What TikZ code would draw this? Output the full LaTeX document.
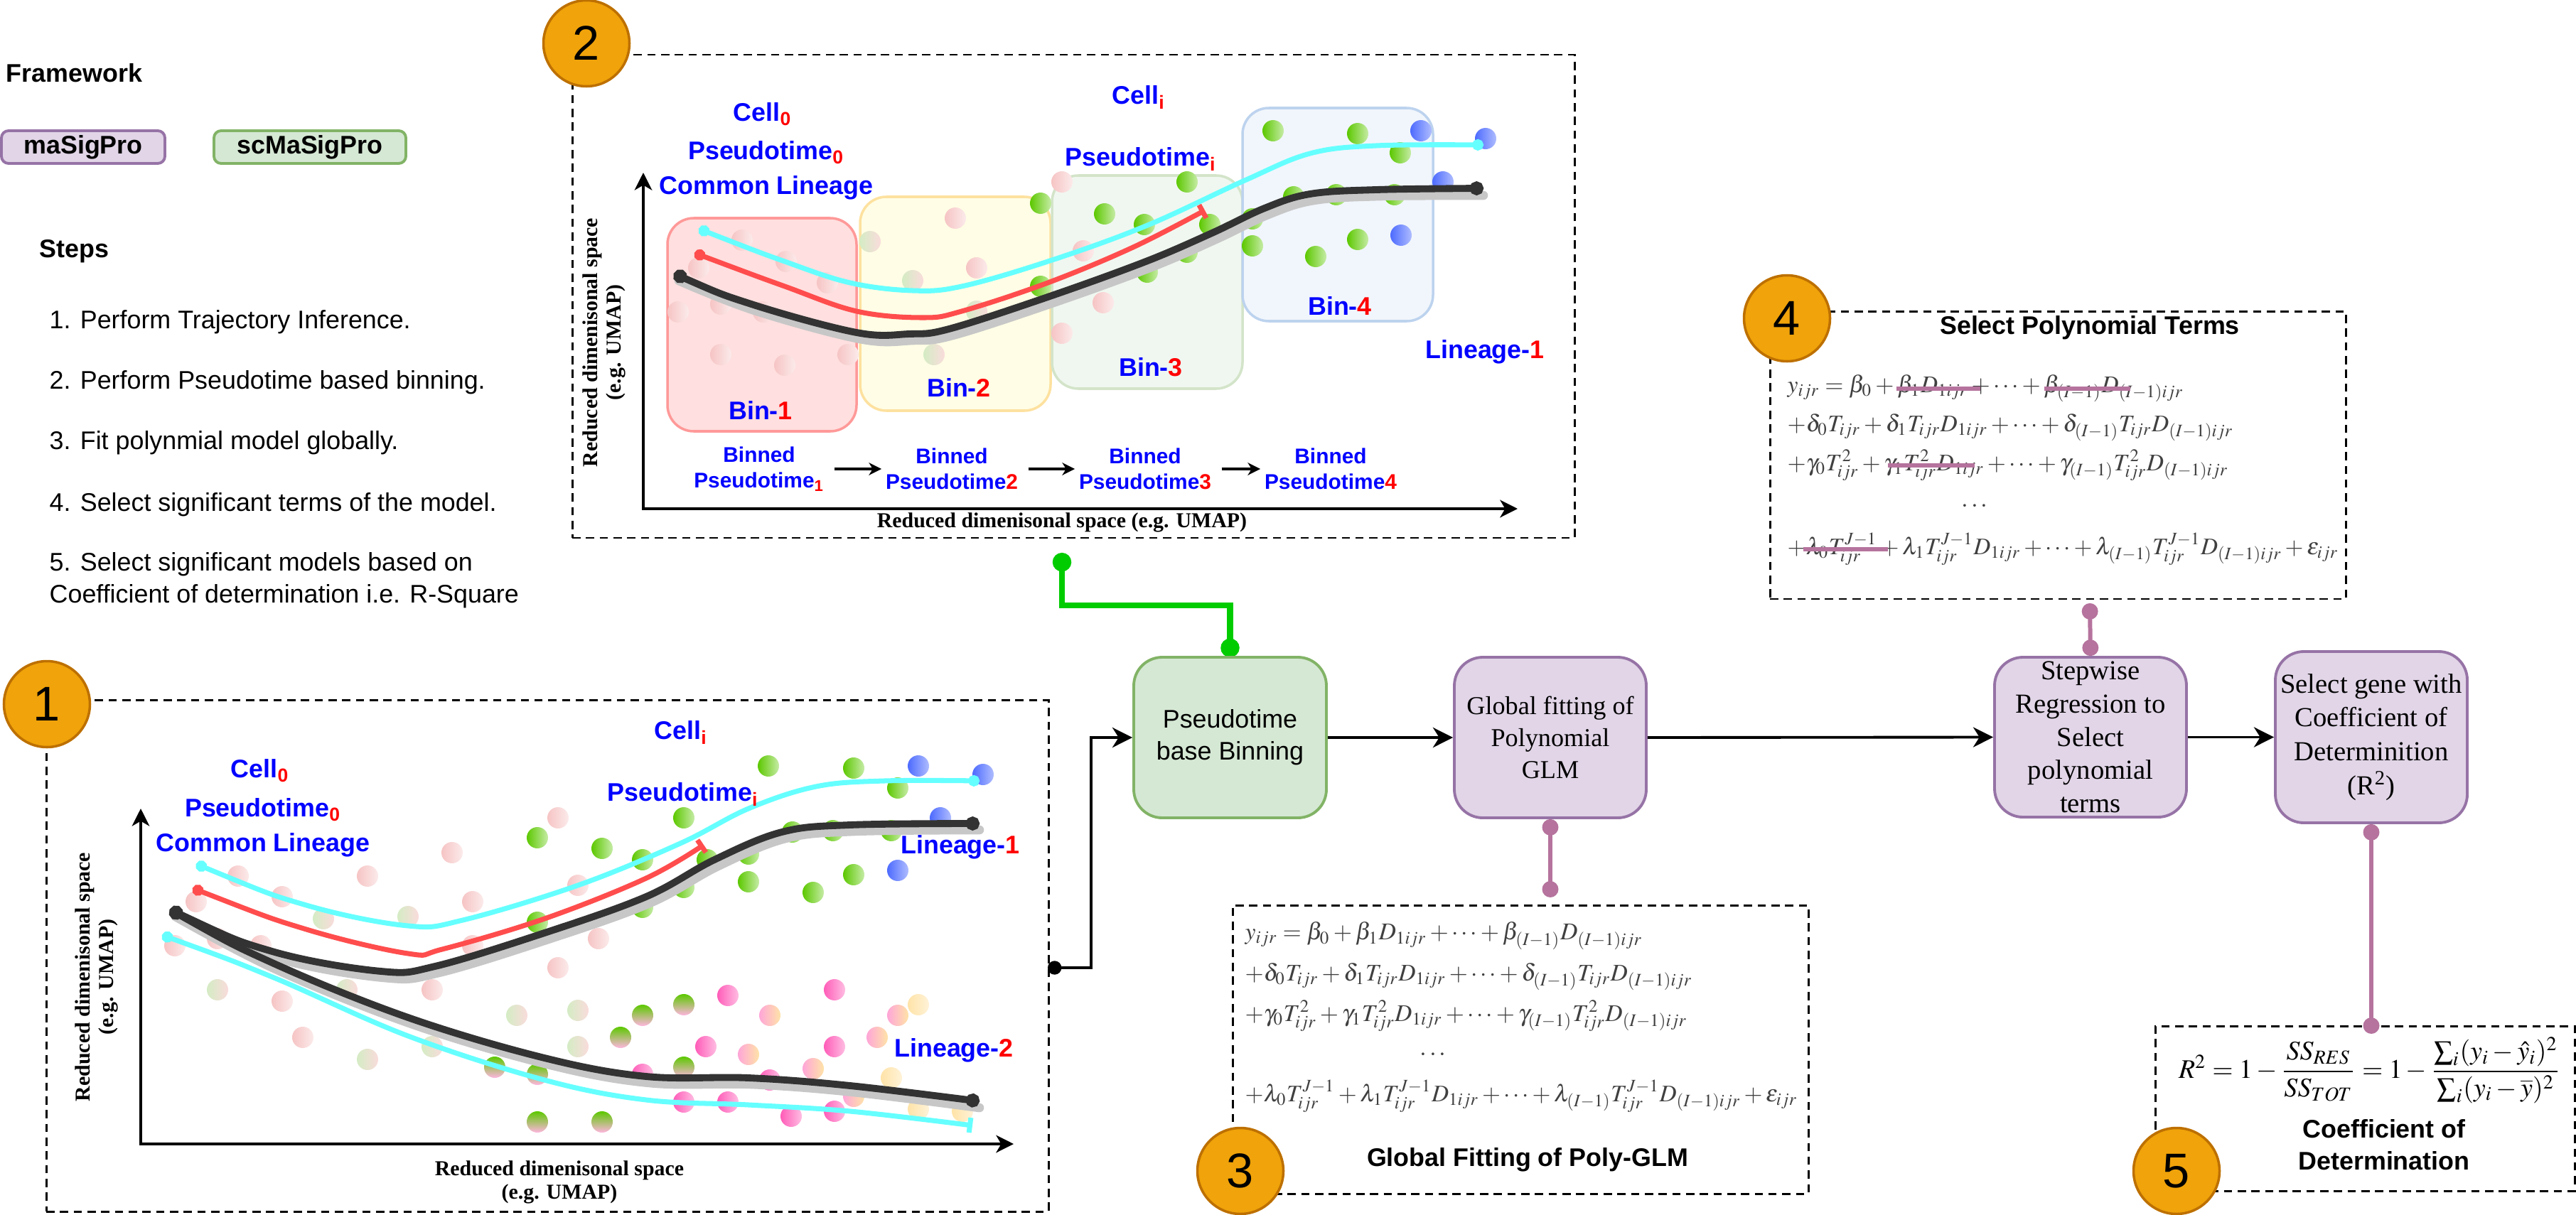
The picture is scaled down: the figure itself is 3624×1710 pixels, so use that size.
\documentclass[tikz,border=0pt]{standalone}
\usepackage{mathptmx}
\usepackage[no-math]{fontspec}
\setmainfont{Liberation Serif}
\setsansfont{Liberation Sans}
\usetikzlibrary{arrows.meta,calc}

\definecolor{orangefill}{HTML}{F0A30A}
\definecolor{orangeline}{HTML}{BD7000}
\definecolor{purplefill}{HTML}{E1D5E7}
\definecolor{purpleline}{HTML}{9673A6}
\definecolor{greenfill}{HTML}{D5E8D4}
\definecolor{greenline}{HTML}{82B366}
\definecolor{linkpurple}{HTML}{B5739D}
\definecolor{linkgreen}{HTML}{00CC00}
\definecolor{lblue}{HTML}{0000FF}
\definecolor{curvecyan}{HTML}{66FFFF}
\definecolor{curvered}{HTML}{FF4D4D}
\definecolor{cellgreen}{HTML}{5CC800}
\definecolor{cellblue}{HTML}{4D6BFF}
\definecolor{cellpink}{HTML}{FF5CB8}
\definecolor{cellyellow}{HTML}{FFE3A8}
\definecolor{palepink}{HTML}{F6C4C4}
\definecolor{palegreen}{HTML}{D4ECC4}
\definecolor{binblue}{HTML}{BDD3EE}

\newcommand{\txtnorm}{\fontsize{10.2}{12.8}\selectfont}
\newcommand{\txtbox}{\fontsize{11}{13.3}\selectfont}

\tikzstyle{stepnum}=[circle, draw=orangeline, fill=orangefill, line width=1pt,
	minimum size=12.1mm, inner sep=0pt, font=\sffamily\fontsize{19.5}{20}\selectfont]
\tikzstyle{panel}=[draw=black, line width=0.85pt, dash pattern=on 3.3pt off 2.2pt, inner sep=0pt]
\tikzstyle{legendbox}=[rounded corners=1mm, line width=1.1pt, minimum height=4.6mm,
	inner sep=0pt, font=\sffamily\bfseries\txtnorm]
\tikzstyle{title}=[inner sep=0pt, font=\sffamily\bfseries\txtnorm]
\tikzstyle{steptext}=[inner sep=0pt, align=left, font=\sffamily\txtnorm]
\tikzstyle{gbox}=[draw=greenline, fill=greenfill, line width=1.1pt, rounded corners=4mm,
	minimum width=27.1mm, minimum height=22.6mm, align=center, inner sep=0pt,
	font=\sffamily\fontsize{10.2}{12.8}\selectfont]
\tikzstyle{pbox}=[draw=purpleline, fill=purplefill, line width=1.1pt, rounded corners=4mm,
	minimum width=27mm, minimum height=22.6mm, align=center, inner sep=0pt,
	font=\rmfamily\txtbox]
\tikzstyle{flow}=[line width=1.1pt, -{Stealth[length=8pt,width=8pt,inset=2.5pt]}]
\tikzstyle{smallflow}=[line width=1pt, shorten <=4pt, shorten >=1.5pt, -{Stealth[length=5pt,width=5pt,inset=1.5pt]}]
\tikzstyle{plink}=[draw=linkpurple, line width=1.7pt, {Circle[length=6.5pt]}-{Circle[length=6.5pt]}]
\tikzstyle{glink}=[draw=linkgreen, line width=2.3pt, {Circle[length=7.5pt]}-{Circle[length=7.5pt]}]
\tikzstyle{strike}=[draw=linkpurple, line width=1.7pt]
\tikzstyle{bluelbl}=[text=lblue, inner sep=0pt, font=\sffamily\bfseries\txtnorm]
\tikzstyle{binned}=[text=lblue, inner sep=0pt, align=center,
	font=\sffamily\bfseries\fontsize{8.5}{10.4}\selectfont]
\tikzstyle{axislbl}=[inner sep=0pt, align=center, font=\rmfamily\bfseries\fontsize{8.5}{9.4}\selectfont]
\tikzstyle{axis}=[line width=1.1pt, {Stealth[length=7pt,width=7pt,inset=2pt]}-{Stealth[length=7pt,width=7pt,inset=2pt]}]
\tikzstyle{trunk}=[line width=2.8pt, draw=black!80, {Circle[length=5.5pt]}-{Circle[length=5.5pt]}]
\tikzstyle{shadow}=[line width=3.6pt, draw=black!22, line cap=round]
\tikzstyle{redpath}=[line width=2pt, draw=curvered]
\tikzstyle{cyanpath}=[line width=2pt, draw=curvecyan]
\tikzstyle{eqn}=[inner sep=0pt, anchor=west, text=black!75, font=\fontsize{10}{12}\selectfont]
\tikzstyle{gcell}=[left color=cellgreen, right color=cellgreen!35!white]
\tikzstyle{bcell}=[left color=cellblue, right color=cellblue!45!white]
\tikzstyle{pkcell}=[left color=cellpink, right color=cellpink!40!white]
\tikzstyle{pecell}=[left color=cellpink!55!white, right color=cellyellow]
\tikzstyle{ycell}=[left color=cellyellow, right color=cellyellow!45!white]
\tikzstyle{gpcell}=[top color=cellgreen, bottom color=cellpink!45!white]
\tikzstyle{ppcell}=[left color=palepink, right color=palepink!35!white]
\tikzstyle{pgcell}=[left color=palegreen, right color=palepink!60!white]

\begin{document}
\begin{tikzpicture}[x=0.1mm, y=-0.1mm]
	\useasboundingbox (0,0) rectangle (3624,1710);

	% legend and steps
	\node[anchor=west, title] (fw) at (8,103) {Framework};
	\node[legendbox, draw=purpleline, fill=purplefill, minimum width=23mm] (lgma) at (117,207) {maSigPro};
	\node[legendbox, draw=greenline, fill=greenfill, minimum width=27mm] (lgsc) at (436,207) {scMaSigPro};
	\node[anchor=west, title] (steps) at (55,354) {Steps};
	\node[anchor=west, steptext] (st1) at (69,453) {1. Perform Trajectory Inference.};
	\node[anchor=west, steptext] (st2) at (69,538) {2. Perform Pseudotime based binning.};
	\node[anchor=west, steptext] (st3) at (69,623) {3. Fit polynmial model globally.};
	\node[anchor=west, steptext] (st4) at (69,710) {4. Select significant terms of the model.};
	\node[anchor=west, steptext] (st5) at (69,817) {5. Select significant models based on\\Coefficient of determination i.e. R-Square};

	% panel 1: trajectory inference
	\node[panel, minimum width=141mm, minimum height=72mm] (panel1) at (770,1345) {};
	\foreach \x/\y in {335/1233, 397/1262, 276/1269, 246/1331, 306/1321, 367/1331, 517/1233,
		636/1200, 665/1269, 785/1151, 813/1246, 842/1321, 785/1362, 608/1393, 397/1409,
		426/1460, 665/1331}
		\shade[ppcell] (\x,\y) circle (15);
	\foreach \x/\y in {455/1293, 574/1290, 488/1393, 306/1393, 517/1491, 608/1473, 727/1429,
		813/1422, 813/1473}
		\shade[pgcell] (\x,\y) circle (15);
	\foreach \x/\y in {756/1179, 847/1194, 904/1210, 962/1151, 1081/1078, 1201/1081, 1263/1109,
		995/1210, 962/1249, 904/1277, 756/1298, 1053/1202, 1053/1241, 1115/1171, 1172/1169,
		1254/1169, 1144/1256, 1201/1231}
		\shade[gcell] (\x,\y) circle (15);
	\foreach \x/\y in {1292/1078, 1383/1090, 1323/1151, 1263/1225}
		\shade[bcell] (\x,\y) circle (15);
	\foreach \x/\y in {962/1414, 904/1429, 873/1460, 962/1502, 756/1512, 696/1502, 756/1579, 847/1579}
		\shade[gpcell] (\x,\y) circle (15);
	\foreach \x/\y in {1024/1401, 1174/1393, 993/1473, 1174/1473, 904/1512, 1083/1520, 962/1551,
		1024/1551, 1113/1571, 1174/1564}
		\shade[pkcell] (\x,\y) circle (15);
	\foreach \x/\y in {1083/1429, 1053/1484, 1144/1504, 1234/1460, 1263/1429, 1201/1543}
		\shade[pecell] (\x,\y) circle (15);
	\foreach \x/\y in {1292/1414, 1254/1517, 1292/1561, 1354/1564}
		\shade[ycell] (\x,\y) circle (15);

	\draw[axis] (198,1138) -- (198,1610) -- (1426,1610);
	\draw[shadow] plot[smooth, tension=0.6] coordinates {(247,1290) (388,1348) (541,1376) (617,1369)
		(771,1322) (914,1271) (1010,1219) (1105,1180) (1201,1170) (1378,1168)};
	\draw[shadow] plot[smooth, tension=0.6] coordinates {(247,1290) (388,1364) (579,1441) (771,1498)
		(914,1524) (1058,1526) (1201,1537) (1378,1559)};
	\draw[trunk] plot[smooth, tension=0.6] coordinates {(239,1280) (383,1339) (536,1367) (612,1360)
		(766,1313) (909,1262) (1005,1210) (1100,1171) (1196,1161) (1378,1159)};
	\draw[trunk] plot[smooth, tension=0.6] coordinates {(239,1280) (383,1355) (574,1432) (766,1489)
		(909,1515) (1053,1517) (1196,1528) (1378,1550)};
	\draw[redpath, {Circle[length=4.5pt]}-{Bar[width=6pt]}] plot[smooth, tension=0.6] coordinates {
		(271,1250) (431,1308) (574,1342) (622,1336) (766,1293) (909,1236) (990,1189)};
	\draw[cyanpath, {Circle[length=4.5pt]}-{Circle[length=4.5pt]}] plot[smooth, tension=0.6] coordinates {
		(276,1216) (431,1274) (574,1303) (651,1295) (813,1246) (957,1187) (1053,1138) (1148,1107)
		(1244,1099) (1378,1099)};
	\draw[cyanpath, {Circle[length=4.5pt]}-{Bar[width=6pt]}] plot[smooth, tension=0.6] coordinates {
		(228,1316) (383,1375) (574,1458) (766,1520) (909,1548) (1053,1555) (1196,1564) (1368,1584)};

	\node[bluelbl] (c0a) at (366,1085) {Cell\textsubscript{\textcolor{red}{0}}};
	\node[bluelbl] (t0a) at (370,1140) {Pseudotime\textsubscript{\textcolor{red}{0}}};
	\node[bluelbl] (cla) at (370,1189) {Common Lineage};
	\node[bluelbl] (cia) at (958,1031) {Cell\textsubscript{\textcolor{red}{i}}};
	\node[bluelbl] (tia) at (961,1118) {Pseudotime\textsubscript{\textcolor{red}{i}}};
	\node[bluelbl] (l1a) at (1351,1192) {Lineage-\textcolor{red}{1}};
	\node[bluelbl] (l2a) at (1342,1478) {Lineage-\textcolor{red}{2}};
	\node[axislbl, rotate=90] (yla) at (136,1375) {Reduced dimenisonal space\\(e.g. UMAP)};
	\node[axislbl] (xla) at (787,1664) {Reduced dimenisonal space\\(e.g. UMAP)};

	% panel 2: pseudotime binning
	\node[panel, minimum width=141mm, minimum height=68mm] (panel2) at (1510,417) {};
	\draw[rounded corners=3.7mm, line width=1pt, draw=red!40, fill=red!25, fill opacity=0.5] (939,307) rectangle (1205,607);
	\draw[rounded corners=3.7mm, line width=1pt, draw=yellow!40!orange!35, fill=yellow!20, fill opacity=0.5] (1210,277) rectangle (1478,578);
	\draw[rounded corners=3.7mm, line width=1pt, draw=greenline!35, fill=greenfill, fill opacity=0.35] (1480,247) rectangle (1748,547);
	\draw[rounded corners=3.7mm, line width=1pt, draw=binblue, fill=binblue!60, fill opacity=0.35] (1748,152) rectangle (2016,452);
	\foreach \x/\y in {1044/338, 1106/368, 1164/398, 983/377, 954/439, 1014/428, 1074/439, 1014/499,
		1104/514, 1193/499, 1344/307, 1374/377, 1494/256, 1524/353, 1552/426, 1494/469}
		\shade[ppcell] (\x,\y) circle (15);
	\foreach \x/\y in {1224/340, 1284/395, 1314/499, 1374/438}
		\shade[pgcell] (\x,\y) circle (15);
	\foreach \x/\y in {1464/286, 1554/301, 1610/316, 1670/256, 1702/316, 1670/355, 1614/383, 1464/403,
		1791/184, 1910/188, 1970/215, 1762/308, 1762/346, 1820/277, 1880/274, 1962/274, 1851/361, 1910/337}
		\shade[gcell] (\x,\y) circle (15);
	\foreach \x/\y in {1999/184, 2090/195, 2030/256, 1971/331}
		\shade[bcell] (\x,\y) circle (15);

	\draw[axis] (905,243) -- (905,716) -- (2135,716);
	\draw[shadow] plot[smooth, tension=0.6] coordinates {(955,395) (1062,437) (1210,477) (1284,479)
		(1340,472) (1479,427) (1617,377) (1710,337) (1784,302) (1848,282) (1941,276) (2087,275)};
	\draw[trunk] plot[smooth, tension=0.6] coordinates {(948,385) (1057,428) (1205,468) (1279,470)
		(1335,463) (1474,418) (1612,368) (1705,328) (1779,293) (1843,273) (1936,267) (2087,265)};
	\draw[redpath, {Circle[length=4.5pt]}-{Bar[width=6pt]}] plot[smooth, tension=0.6] coordinates {
		(977,356) (1104,403) (1205,438) (1298,447) (1353,438) (1474,398) (1594,348) (1695,296)};
	\draw[cyanpath, {Circle[length=4.5pt]}-{Circle[length=4.5pt]}] plot[smooth, tension=0.6] coordinates {
		(983,322) (1104,368) (1196,398) (1284,409) (1353,403) (1474,368) (1612,318) (1751,254)
		(1843,216) (1936,205) (2087,204)};

	\node[bluelbl] (c0b) at (1073,161) {Cell\textsubscript{\textcolor{red}{0}}};
	\node[bluelbl] (t0b) at (1078,215) {Pseudotime\textsubscript{\textcolor{red}{0}}};
	\node[bluelbl] (clb) at (1078,264) {Common Lineage};
	\node[bluelbl] (cib) at (1602,137) {Cell\textsubscript{\textcolor{red}{i}}};
	\node[bluelbl] (tib) at (1605,224) {Pseudotime\textsubscript{\textcolor{red}{i}}};
	\node[bluelbl] (l1b) at (2089,495) {Lineage-\textcolor{red}{1}};
	\node[bluelbl] (bin1) at (1070,578) {Bin-\textcolor{red}{1}};
	\node[bluelbl] (bin2) at (1349,546) {Bin-\textcolor{red}{2}};
	\node[bluelbl] (bin3) at (1619,517) {Bin-\textcolor{red}{3}};
	\node[bluelbl] (bin4) at (1885,431) {Bin-\textcolor{red}{4}};
	\node[binned] (bp1) at (1068,660) {Binned\\Pseudotime\textsubscript{\textcolor{red}{1}}};
	\node[binned] (bp2) at (1339,660) {Binned\\Pseudotime\textcolor{red}{2}};
	\node[binned] (bp3) at (1611,660) {Binned\\Pseudotime\textcolor{red}{3}};
	\node[binned] (bp4) at (1872,660) {Binned\\Pseudotime\textcolor{red}{4}};
	\draw[smallflow] (bp1) -- (bp2);
	\draw[smallflow] (bp2) -- (bp3);
	\draw[smallflow] (bp3) -- (bp4);
	\node[axislbl, rotate=90] (ylb) at (850,482) {Reduced dimenisonal space\\(e.g. UMAP)};
	\node[axislbl] (xlb) at (1494,735) {Reduced dimenisonal space (e.g. UMAP)};

	% panel 3: global fitting
	\node[panel, minimum width=81mm, minimum height=40.6mm] (panel3) at (2139,1477) {};
	\node[eqn] (g1) at (1751,1317) {\resizebox{55.9mm}{!}{$y_{ijr} = \beta_0 + \beta_1 D_{1ijr} + \cdots + \beta_{(I-1)} D_{(I-1)ijr}$}};
	\node[eqn] (g2) at (1751,1375) {\resizebox{62.9mm}{!}{$+\delta_0 T_{ijr} + \delta_1 T_{ijr} D_{1ijr} + \cdots + \delta_{(I-1)} T_{ijr} D_{(I-1)ijr}$}};
	\node[eqn] (g3) at (1751,1430) {\resizebox{62.2mm}{!}{$+\gamma_0 T^2_{ijr} + \gamma_1 T^2_{ijr} D_{1ijr} + \cdots + \gamma_{(I-1)} T^2_{ijr} D_{(I-1)ijr}$}};
	\node[eqn, anchor=center] (g4) at (2016,1485) {$\cdots$};
	\node[eqn] (g5) at (1751,1543) {\resizebox{77.7mm}{!}{$+\lambda_0 T^{J-1}_{ijr} + \lambda_1 T^{J-1}_{ijr} D_{1ijr} + \cdots + \lambda_{(I-1)} T^{J-1}_{ijr} D_{(I-1)ijr} + \varepsilon_{ijr}$}};
	\node[title] (glmtitle) at (2149,1632) {Global Fitting of Poly-GLM};

	% panel 4: select terms
	\node[panel, minimum width=81mm, minimum height=40.5mm] (panel4) at (2895,640.5) {};
	\node[title] (seltitle) at (2940,461) {Select Polynomial Terms};
	\node[eqn] (q1) at (2514,547) {\resizebox{55.7mm}{!}{$y_{ijr} = \beta_0 + \beta_1 D_{1ijr} + \cdots + \beta_{(I-1)} D_{(I-1)ijr}$}};
	\node[eqn] (q2) at (2514,602) {\resizebox{62.7mm}{!}{$+\delta_0 T_{ijr} + \delta_1 T_{ijr} D_{1ijr} + \cdots + \delta_{(I-1)} T_{ijr} D_{(I-1)ijr}$}};
	\node[eqn] (q3) at (2514,655) {\resizebox{62mm}{!}{$+\gamma_0 T^2_{ijr} + \gamma_1 T^2_{ijr} D_{1ijr} + \cdots + \gamma_{(I-1)} T^2_{ijr} D_{(I-1)ijr}$}};
	\node[eqn, anchor=center] (q4) at (2778,713) {$\cdots$};
	\node[eqn] (q5) at (2514,773) {\resizebox{77.5mm}{!}{$+\lambda_0 T^{J-1}_{ijr} + \lambda_1 T^{J-1}_{ijr} D_{1ijr} + \cdots + \lambda_{(I-1)} T^{J-1}_{ijr} D_{(I-1)ijr} + \varepsilon_{ijr}$}};
	\draw[strike] ($(q1.west)!0.276!(q1.east)$) -- ($(q1.west)!0.487!(q1.east)$);
	\draw[strike] ($(q1.west)!0.649!(q1.east)$) -- ($(q1.west)!0.864!(q1.east)$);
	\draw[strike] ($(q3.west)!0.229!(q3.east)$) -- ($(q3.west)!0.424!(q3.east)$);
	\draw[strike, yshift=1.4pt] ($(q5.west)!0.03!(q5.east)$) -- ($(q5.west)!0.183!(q5.east)$);

	% panel 5: coefficient of determination
	\node[panel, minimum width=59mm, minimum height=23.2mm] (panel5) at (3327,1560) {};
	\node[inner sep=0pt] (rform) at (3334,1506)
		{\resizebox{53.8mm}{!}{$R^2 = 1 - \displaystyle\frac{SS_{RES}}{SS_{TOT}} = 1 - \frac{\sum_i (y_i - \hat{y}_i)^2}{\sum_i (y_i - \overline{y})^2}$}};
	\node[title, align=center] (rtitle) at (3354,1611) {Coefficient of\\Determination};

	% workflow
	\coordinate (p1out) at (1474,1362);
	\coordinate (p2out) at (1494,778);
	\coordinate (p4out) at (2940,849);
	\draw[glink] (p2out) -- ++(0,74) -| (1730.5,925);
	\node[gbox] (binning) at (1730.5,1038) {Pseudotime\\base Binning};
	\node[pbox, font=\rmfamily\fontsize{10.3}{12.8}\selectfont] (glm) at (2181,1038) {Global fitting of\\Polynomial\\GLM};
	\node[pbox, minimum height=22.5mm] (stepwise) at (2941,1037.5) {Stepwise\\Regression to\\Select\\polynomial\\terms};
	\node[pbox, minimum height=24.1mm, font=\rmfamily\fontsize{11}{13.6}\selectfont] (rsq) at (3336,1037.5) {Select gene with\\Coefficient of\\Determinition\\(R\textsuperscript{2})};
	\draw[flow, {Circle[length=5.5pt]}-{Stealth[length=8pt,width=8pt,inset=2.5pt]}] (p1out) -- ++(61,0) |- (binning.west);
	\draw[flow] (binning.east) -- (glm.west);
	\draw[flow] (glm.east) -- (stepwise.west);
	\draw[flow] (stepwise.east) -- (rsq.west);
	\draw[plink] (glm.south) -- ++(0,110);
	\draw[plink] (p4out) -- (stepwise.north);
	\draw[plink] (rsq.south) -- ++(0,295);

	% step numbers
	\node[stepnum] (s1) at (66,991) {1};
	\node[stepnum] (s2) at (825,61) {2};
	\node[stepnum] (s3) at (1745,1648) {3};
	\node[stepnum] (s4) at (2514,448) {4};
	\node[stepnum] (s5) at (3062,1648) {5};
\end{tikzpicture}
\end{document}
